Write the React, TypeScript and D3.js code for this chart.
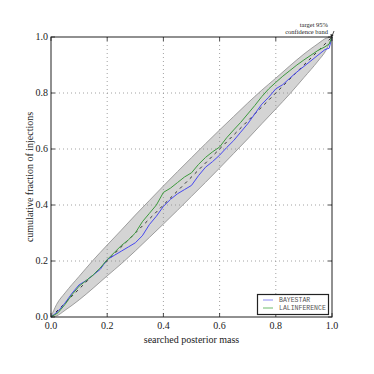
import { useEffect, useRef } from 'react';
import * as d3 from 'd3';

// searched posterior mass (x) sample points
const massX = [0, 0.025, 0.05, 0.075, 0.1, 0.125, 0.15, 0.175, 0.2, 0.225, 0.25, 0.275, 0.3, 0.325, 0.35, 0.375, 0.4,
  0.425, 0.45, 0.475, 0.5, 0.525, 0.55, 0.575, 0.6, 0.625, 0.65, 0.675, 0.7, 0.725, 0.75, 0.775, 0.8,
  0.825, 0.85, 0.875, 0.9, 0.925, 0.95, 0.975, 0.99, 1]

const bayestar = [0, 0.02, 0.05, 0.085, 0.115, 0.13, 0.15, 0.17, 0.205, 0.22, 0.235, 0.25, 0.265, 0.29, 0.33, 0.36, 0.395,
  0.42, 0.44, 0.455, 0.47, 0.505, 0.535, 0.555, 0.578, 0.605, 0.63, 0.66, 0.69, 0.725, 0.76, 0.785, 0.815,
  0.83, 0.853, 0.875, 0.895, 0.915, 0.935, 0.955, 0.96, 1]

const lalinference = [0, 0.015, 0.045, 0.08, 0.11, 0.13, 0.15, 0.175, 0.205, 0.23, 0.255, 0.275, 0.3, 0.34, 0.37, 0.4, 0.445,
  0.46, 0.48, 0.5, 0.515, 0.545, 0.57, 0.59, 0.607, 0.64, 0.668, 0.695, 0.725, 0.755, 0.787, 0.815, 0.838,
  0.86, 0.88, 0.9, 0.918, 0.935, 0.952, 0.965, 0.975, 1]

// target 95% confidence band
const bandP = [0, 0.02, 0.05, 0.1, 0.15, 0.2, 0.25, 0.3, 0.35, 0.4, 0.45, 0.5, 0.55, 0.6, 0.65, 0.7, 0.75, 0.8, 0.85, 0.9, 0.95, 0.98, 1]
const bandLo = [0, 0.004, 0.024, 0.061, 0.103, 0.147, 0.19, 0.236, 0.284, 0.332, 0.381, 0.431, 0.481, 0.532, 0.584, 0.636, 0.69, 0.743, 0.797, 0.855, 0.914, 0.955, 1]
const bandHi = [0, 0.045, 0.086, 0.145, 0.203, 0.257, 0.31, 0.364, 0.416, 0.468, 0.519, 0.569, 0.619, 0.668, 0.716, 0.764, 0.81, 0.853, 0.897, 0.939, 0.976, 0.996, 1]

const ticks = [0, 0.2, 0.4, 0.6, 0.8, 1.0]

const series = [
  { name: 'BAYESTAR', values: bayestar, color: '#4848f0', legend: '#8c8cf5' },
  { name: 'LALINFERENCE', values: lalinference, color: '#3c9a3c', legend: '#6cbb6c' },
]

function App() {
  const ref = useRef<SVGSVGElement>(null)

  useEffect(() => {
    const svg = d3.select(ref.current)
    svg.selectAll('*').remove()

    const m = { left: 51, right: 332, top: 37, bottom: 317 }
    const x = d3.scaleLinear().domain([0, 1]).range([m.left, m.right])
    const y = d3.scaleLinear().domain([0, 1]).range([m.bottom, m.top])
    const serif = 'Liberation Serif, Times New Roman, serif'

    // band
    const area = d3.area<number>()
      .x((d, i) => x(bandP[i]))
      .y0((d, i) => y(bandLo[i]))
      .y1((d, i) => y(bandHi[i]))
      .curve(d3.curveMonotoneX)
    svg.append('path')
      .attr('d', area(bandP))
      .attr('fill', '#d4d4d4')
      .attr('stroke', '#8a8a8a')
      .attr('stroke-width', 0.8)

    // grid
    const grid = svg.append('g')
      .attr('stroke', '#8a8a8a')
      .attr('stroke-width', 0.8)
      .attr('stroke-dasharray', '1,3')
    ticks.slice(1, -1).forEach(t => {
      grid.append('line').attr('x1', x(t)).attr('x2', x(t)).attr('y1', m.top).attr('y2', m.bottom)
      grid.append('line').attr('x1', m.left).attr('x2', m.right).attr('y1', y(t)).attr('y2', y(t))
    })

    // diagonal
    svg.append('line')
      .attr('x1', x(0)).attr('y1', y(0)).attr('x2', x(1)).attr('y2', y(1))
      .attr('stroke', '#333').attr('stroke-width', 1).attr('stroke-dasharray', '3,4')

    const line = d3.line<number>()
      .x((d, i) => x(massX[i]))
      .y(d => y(d))
    series.forEach(s => {
      svg.append('path')
        .attr('d', line(s.values))
        .attr('fill', 'none')
        .attr('stroke', s.color)
        .attr('stroke-width', 1)
        .attr('stroke-linejoin', 'miter')
    })

    // frame and ticks
    svg.append('rect')
      .attr('x', m.left).attr('y', m.top)
      .attr('width', m.right - m.left).attr('height', m.bottom - m.top)
      .attr('fill', 'none').attr('stroke', '#222').attr('stroke-width', 1)

    const tk = svg.append('g').attr('stroke', '#222').attr('stroke-width', 0.8)
    ticks.forEach(t => {
      tk.append('line').attr('x1', x(t)).attr('x2', x(t)).attr('y1', m.bottom).attr('y2', m.bottom - 4)
      tk.append('line').attr('x1', x(t)).attr('x2', x(t)).attr('y1', m.top).attr('y2', m.top + 4)
      tk.append('line').attr('x1', m.left).attr('x2', m.left + 4).attr('y1', y(t)).attr('y2', y(t))
      tk.append('line').attr('x1', m.right).attr('x2', m.right - 4).attr('y1', y(t)).attr('y2', y(t))
    })

    svg.append('g').selectAll('text').data(ticks).join('text')
      .attr('x', d => x(d)).attr('y', m.bottom + 12)
      .attr('text-anchor', 'middle')
      .attr('font-family', serif).attr('font-size', 10).attr('fill', '#222')
      .text(d => d.toFixed(1))

    svg.append('g').selectAll('text').data(ticks).join('text')
      .attr('x', m.left - 3).attr('y', d => y(d) + 3)
      .attr('text-anchor', 'end')
      .attr('font-family', serif).attr('font-size', 10).attr('fill', '#222')
      .text(d => d.toFixed(1))

    svg.append('text')
      .attr('x', (m.left + m.right) / 2).attr('y', m.bottom + 26)
      .attr('text-anchor', 'middle')
      .attr('font-family', serif).attr('font-size', 10).attr('fill', '#222')
      .text('searched posterior mass')

    svg.append('text')
      .attr('transform', `translate(33,${(m.top + m.bottom) / 2}) rotate(-90)`)
      .attr('text-anchor', 'middle')
      .attr('font-family', serif).attr('font-size', 10).attr('fill', '#222')
      .text('cumulative fraction of injections')

    // annotation
    const ann = svg.append('g')
      .attr('font-family', serif).attr('font-size', 6.5).attr('fill', '#222')
      .attr('text-anchor', 'end')
    ann.append('text').attr('x', 328).attr('y', 27).text('target 95%')
    ann.append('text').attr('x', 328).attr('y', 34).text('confidence band')
    svg.append('path')
      .attr('d', `M${x(1) + 2},${y(1) - 6} L${x(1) - 0.5},${y(1) + 0.5}`)
      .attr('stroke', '#222').attr('stroke-width', 0.8)
    svg.append('path')
      .attr('d', `M${x(1) - 1},${y(1) + 1} L${x(1) - 1.5},${y(1) - 3} L${x(1) + 1.5},${y(1) - 2} Z`)
      .attr('fill', '#222')

    // legend
    const lg = svg.append('g')
    lg.append('rect')
      .attr('x', 257.5).attr('y', 294.5).attr('width', 71).attr('height', 20)
      .attr('fill', 'white').attr('stroke', '#222').attr('stroke-width', 1.2)
    series.forEach((s, i) => {
      const ly = 300 + i * 8
      lg.append('line')
        .attr('x1', 263).attr('x2', 273).attr('y1', ly).attr('y2', ly)
        .attr('stroke', s.legend).attr('stroke-width', 1)
      lg.append('text')
        .attr('x', 279).attr('y', ly + 2.3)
        .attr('font-family', 'Liberation Mono, DejaVu Sans Mono, monospace')
        .attr('font-size', 6.5).attr('fill', '#555')
        .text(s.name)
    })
  }, [])

  return (
    <svg ref={ref} width={374} height={374}
      style={{ position: 'absolute', left: 0, top: 0, background: 'white' }} />
  )
}

export default App
